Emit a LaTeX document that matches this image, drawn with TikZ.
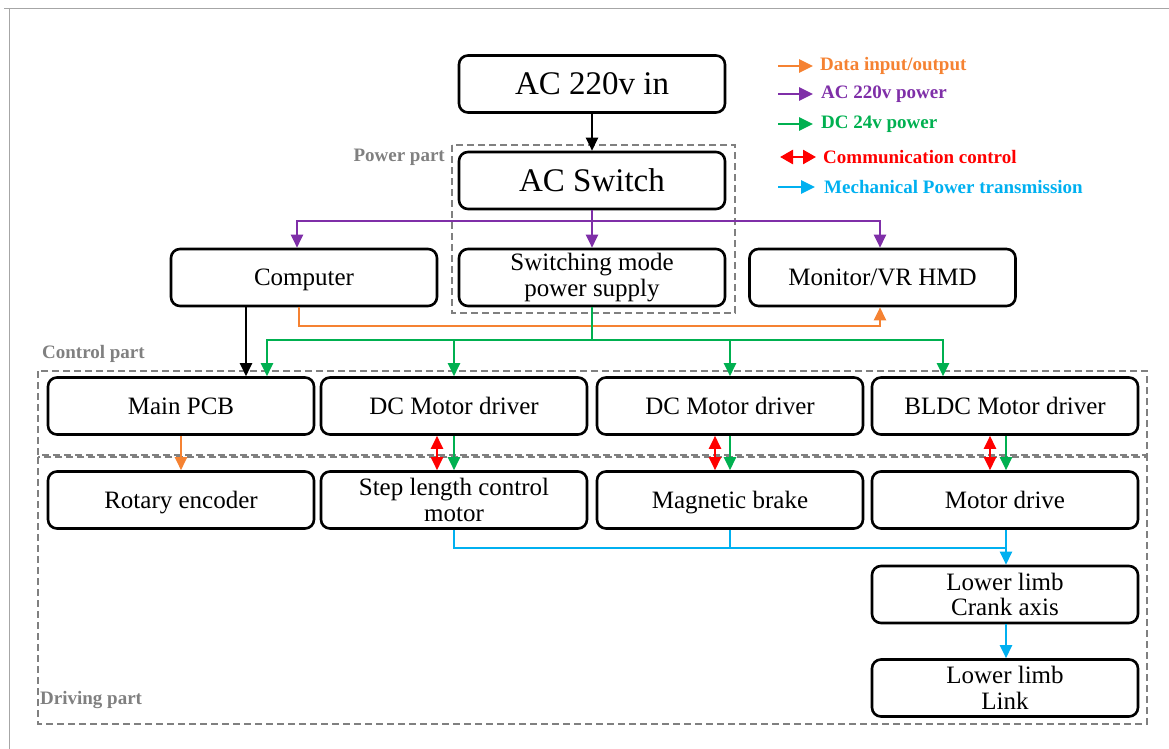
\documentclass[tikz,border=0pt]{standalone}
\usepackage{fontspec}
\setmainfont{Liberation Serif}
\usetikzlibrary{arrows.meta,calc}
\definecolor{cdata}{HTML}{F58232}
\definecolor{cac}{HTML}{7F2FA8}
\definecolor{cdc}{HTML}{00B050}
\definecolor{ccom}{HTML}{FF0000}
\definecolor{cmech}{HTML}{00B0F0}
\definecolor{cgroup}{HTML}{808080}
\tikzset{
  boxbase/.style={draw, line width=2.6pt, rounded corners=9pt, minimum width=266pt,
    minimum height=57pt, inner sep=0pt,
    font=\fontsize{25}{25.5}\selectfont},
  block/.style={boxbase, align=center},
  oneline/.style={boxbase, text height=16.8pt, text depth=0pt},
  bigblock/.style={boxbase, text height=22pt, text depth=0pt, font=\fontsize{33}{36}\selectfont},
  tip/.style={-{Triangle[length=13pt,width=12pt]}},
  wire/.style={line width=2.3pt, tip},
  blackw/.style={wire, black},
  dataw/.style={wire, cdata},
  acw/.style={wire, cac},
  dcw/.style={wire, cdc},
  comw/.style={line width=2.3pt, ccom, {Triangle[length=13pt,width=12pt]}-{Triangle[length=13pt,width=12pt]}},
  mechw/.style={wire, cmech},
  group/.style={draw=cgroup, line width=2.2pt, dash pattern=on 7pt off 4pt},
  grouplabel/.style={text=cgroup, font=\fontsize{19}{21}\selectfont\bfseries, inner sep=0pt},
  legtext/.style={font=\fontsize{19}{21}\selectfont\bfseries, inner sep=0pt, anchor=west},
  legarrow/.style={line width=2.6pt, -{Triangle[length=14pt,width=13pt]}}
}
\begin{document}
\begin{tikzpicture}[x=1pt,y=-1pt]
\useasboundingbox (0,0) rectangle (1169,749);
% page frame
\draw[gray!70, line width=1pt] (4,9) -- (1169,9);
\draw[gray!70, line width=1pt] (9,9) -- (9,749);

% group frames
\draw[group] (452,145) rectangle (735,313);
\draw[group] (38,371) rectangle (1147,455);
\draw[group] (38,457) rectangle (1147,724);
\node[grouplabel, anchor=east] (lpower) at (445,157) {Power part};
\node[grouplabel, anchor=west] (lcontrol) at (42,354) {Control part};
\node[grouplabel, anchor=west] (ldriving) at (40,700) {Driving part};

% blocks
\node[bigblock] (ac) at (592,84) {AC 220v in};
\node[bigblock] (sw) at (592,180.5) {AC Switch};
\node[oneline] (comp) at (304,277.5) {Computer};
\node[block] (smps) at (592,277.5) {Switching mode\\power supply};
\node[oneline] (mon) at (882.5,277.5) {Monitor/VR HMD};
\node[oneline] (pcb) at (181,406) {Main PCB};
\node[oneline] (dca) at (454,406) {DC Motor driver};
\node[oneline] (dcb) at (730,406) {DC Motor driver};
\node[oneline] (bldc) at (1005,406) {BLDC Motor driver};
\node[oneline] (enc) at (181,500) {Rotary encoder};
\node[block] (step) at (454,500) {Step length control\\motor};
\node[oneline] (brake) at (730,500) {Magnetic brake};
\node[oneline] (mdrv) at (1005,500) {Motor drive};
\node[block] (crank) at (1005,594.5) {Lower limb\\Crank axis};
\node[block] (link) at (1005,688) {Lower limb\\Link};

% mains
\draw[blackw] (ac) -- (sw);
\coordinate (pbus) at (592,221);
\draw[acw] (sw.south) -- (smps.north);
\draw[acw] (pbus) -| (comp.north -| 297,0);
\draw[acw] (pbus) -| (mon.north -| 880,0);

% computer links
\draw[blackw] (comp.south -| 246,0) -- (pcb.north -| 246,0);
\draw[dataw] (comp.south -| 299,0) -- (299,326) -| (mon.south -| 880,0);

% 24 V distribution
\draw[dcw, -] (smps.south) -- (592,340) coordinate (gbus);
\draw[dcw] (gbus) -| (pcb.north -| 267,0);
\draw[dcw] (gbus) -| (dca.north);
\draw[dcw] (gbus) -| (dcb.north);
\draw[dcw] (gbus) -| (bldc.north -| 943,0);

% control to driving
\draw[dataw] (pcb.south) -- (enc.north);
\draw[comw] (dca.south -| 437,0) -- (step.north -| 437,0);
\draw[dcw] (dca.south) -- (step.north);
\draw[comw] (dcb.south -| 715,0) -- (brake.north -| 715,0);
\draw[dcw] (dcb.south) -- (brake.north);
\draw[comw] (bldc.south -| 990,0) -- (mdrv.north -| 990,0);
\draw[dcw] (bldc.south -| 1006,0) -- (mdrv.north -| 1006,0);

% mechanical path
\draw[mechw, -] (step.south) |- (1006,548);
\draw[mechw, -] (brake.south) -- (brake.south |- 0,548);
\draw[mechw] (mdrv.south -| 1006,0) -- (crank.north -| 1006,0);
\draw[mechw] (crank.south -| 1006,0) -- (link.north -| 1006,0);

% legend
\coordinate (k1) at (778,66);
\coordinate (k2) at (778,94);
\coordinate (k3) at (778,124);
\coordinate (k4) at (780,157);
\coordinate (k5) at (778,187);
\draw[legarrow, cdata] (k1) -- ++(35,0);
\node[legtext, text=cdata] (t1) at (820,66) {Data input/output};
\draw[legarrow, cac] (k2) -- ++(35,0);
\node[legtext, text=cac] (t2) at (821,94) {AC 220v power};
\draw[legarrow, cdc] (k3) -- ++(35,0);
\node[legtext, text=cdc] (t3) at (821,124) {DC 24v power};
\draw[line width=2.6pt, ccom, {Triangle[length=13pt,width=14pt]}-{Triangle[length=13pt,width=14pt]}] (k4) -- ++(36,0);
\node[legtext, text=ccom] (t4) at (823,157) {Communication control};
\draw[legarrow, cmech] (k5) -- ++(37,0);
\node[legtext, text=cmech] (t5) at (824,187) {Mechanical Power transmission};
\end{tikzpicture}
\end{document}
